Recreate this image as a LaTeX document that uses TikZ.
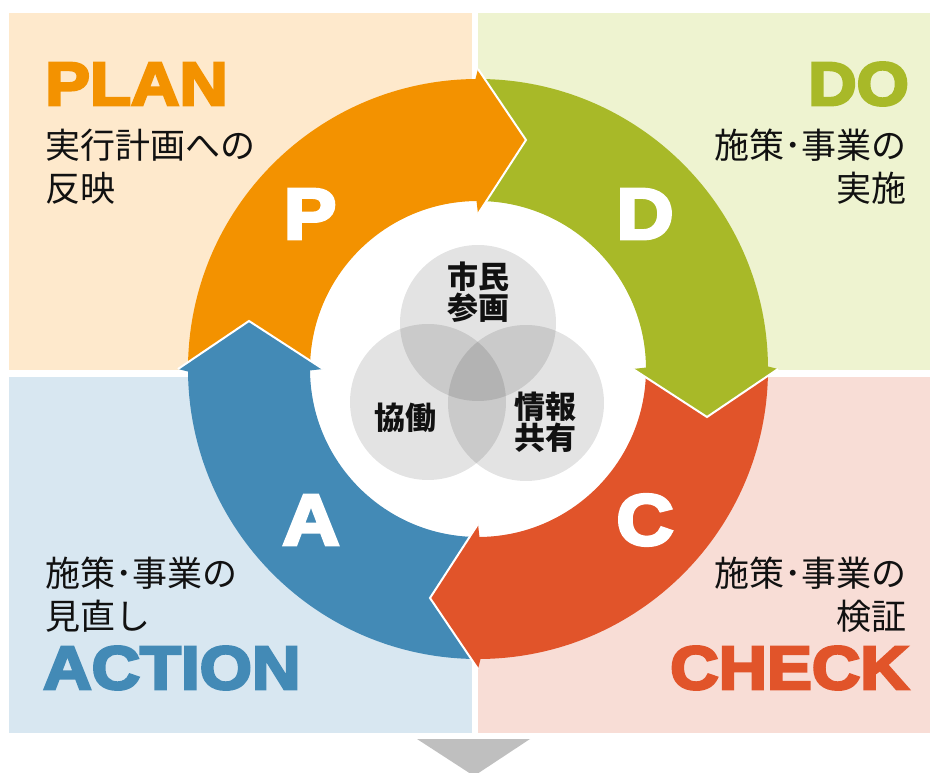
\documentclass[tikz,border=0pt]{standalone}
\usepackage{fontspec}
\setmainfont{Liberation Sans}
\newfontfamily\heavy{Liberation Sans Bold}[FakeBold=4.5, FakeStretch=1.1]
\newfontfamily\jp{Noto Sans CJK JP}
\usetikzlibrary{calc}
\definecolor{cOr}{HTML}{F39200}
\definecolor{cGr}{HTML}{A8B928}
\definecolor{cRd}{HTML}{E1542A}
\definecolor{cBl}{HTML}{438AB6}
\definecolor{bgOr}{HTML}{FEE9CC}
\definecolor{bgGr}{HTML}{EEF3D0}
\definecolor{bgBl}{HTML}{D8E7F1}
\definecolor{bgRd}{HTML}{F8DDD6}
\definecolor{cArr}{HTML}{BFBFBF}
\definecolor{txt}{HTML}{111111}
\tikzset{
  big/.style={inner sep=0pt, font=\heavy\fontsize{61}{61}\selectfont},
  letter/.style={inner sep=0pt, text=white, font=\heavy\fontsize{72}{72}\selectfont},
  jtxt/.style={inner sep=0pt, text=txt, font=\jp\fontsize{35}{35}\selectfont},
  vtxt/.style={inner sep=0pt, text=txt, align=center, font=\jp\bfseries\fontsize{31}{31}\selectfont},
  venn/.style={fill=black, fill opacity=0.11},
}
\begin{document}
\begin{tikzpicture}[x=1pt,y=1pt]
\useasboundingbox (0,0) rectangle (930,772);
\fill[white] (0,0) rectangle (930,772);
% panels
\fill[bgOr] (9,402) rectangle (472,759);
\fill[bgGr] (478,402) rectangle (930,759);
\fill[bgBl] (9,39) rectangle (472,395);
\fill[bgRd] (478,39) rectangle (930,395);
% bottom arrow
\fill[cArr] (417,33) -- (530,33) -- (474,-4) -- cycle;
% ring
\coordinate (C) at (478,403);
\fill[white] (C) circle[radius=168];
\foreach \a/\c [evaluate=\a as \b using \a-90] in {180/cOr, 90/cGr, 0/cRd, 270/cBl}{
  \fill[\c] ($(C)+(\a:290)$) arc[start angle=\a, end angle=\b, radius=290]
    -- ($(C)+(\b:168)$) arc[start angle=\b, end angle=\a, radius=168] -- cycle;
}
\foreach \a/\c [evaluate=\a as \t using \a-90, evaluate=\a as \k using \a+0.5] in {90/cOr, 0/cGr, -90/cRd, 180/cBl}{
  \fill[\c] ($(C)+(\k:168)$) -- ($(C)+(\a:155)$) -- ($(C)+(\a:229)+(\t:48)$)
    -- ($(C)+(\a:300)$) -- ($(C)+(\k:290)$) -- cycle;
  \draw[white, line width=2pt, line join=miter] ($(C)+(\a:155)$) -- ($(C)+(\a:229)+(\t:48)$) -- ($(C)+(\a:300)$);
}
% venn
\fill[venn] (478,449) circle[radius=78];
\fill[venn] (428,370) circle[radius=78];
\fill[venn] (526,369) circle[radius=78];
\node[vtxt] (v1) at (478,480) {市民\\参画};
\node[vtxt] (v2) at (405,354) {協働};
\node[vtxt] (v3) at (545,350) {情報\\共有};
% big letters
\node[letter] (P) at (310,558) {P};
\node[letter] (D) at (645,558) {D};
\node[letter] (Cl) at (645,252) {C};
\node[letter] (A) at (311,252) {A};
% titles
\node[big, text=cOr, anchor=west] (plan) at (45,688) {PLAN};
\node[big, text=cGr, anchor=east] (do) at (909,688) {DO};
\node[big, text=cBl, anchor=west] (action) at (43,104) {ACTION};
\node[big, text=cRd, anchor=east] (check) at (909,104) {CHECK};
% texts
\node[jtxt, anchor=west] (p1) at (45,627) {実行計画への};
\node[jtxt, anchor=west] (p2) at (45,584) {反映};
\node[jtxt, anchor=east] (d1) at (907,627) {施策･事業の};
\node[jtxt, anchor=east] (d2) at (907,584) {実施};
\node[jtxt, anchor=west] (a1) at (45,199) {施策･事業の};
\node[jtxt, anchor=west] (a2) at (45,156) {見直し};
\node[jtxt, anchor=east] (c1) at (907,199) {施策･事業の};
\node[jtxt, anchor=east] (c2) at (907,156) {検証};
\end{tikzpicture}
\end{document}
